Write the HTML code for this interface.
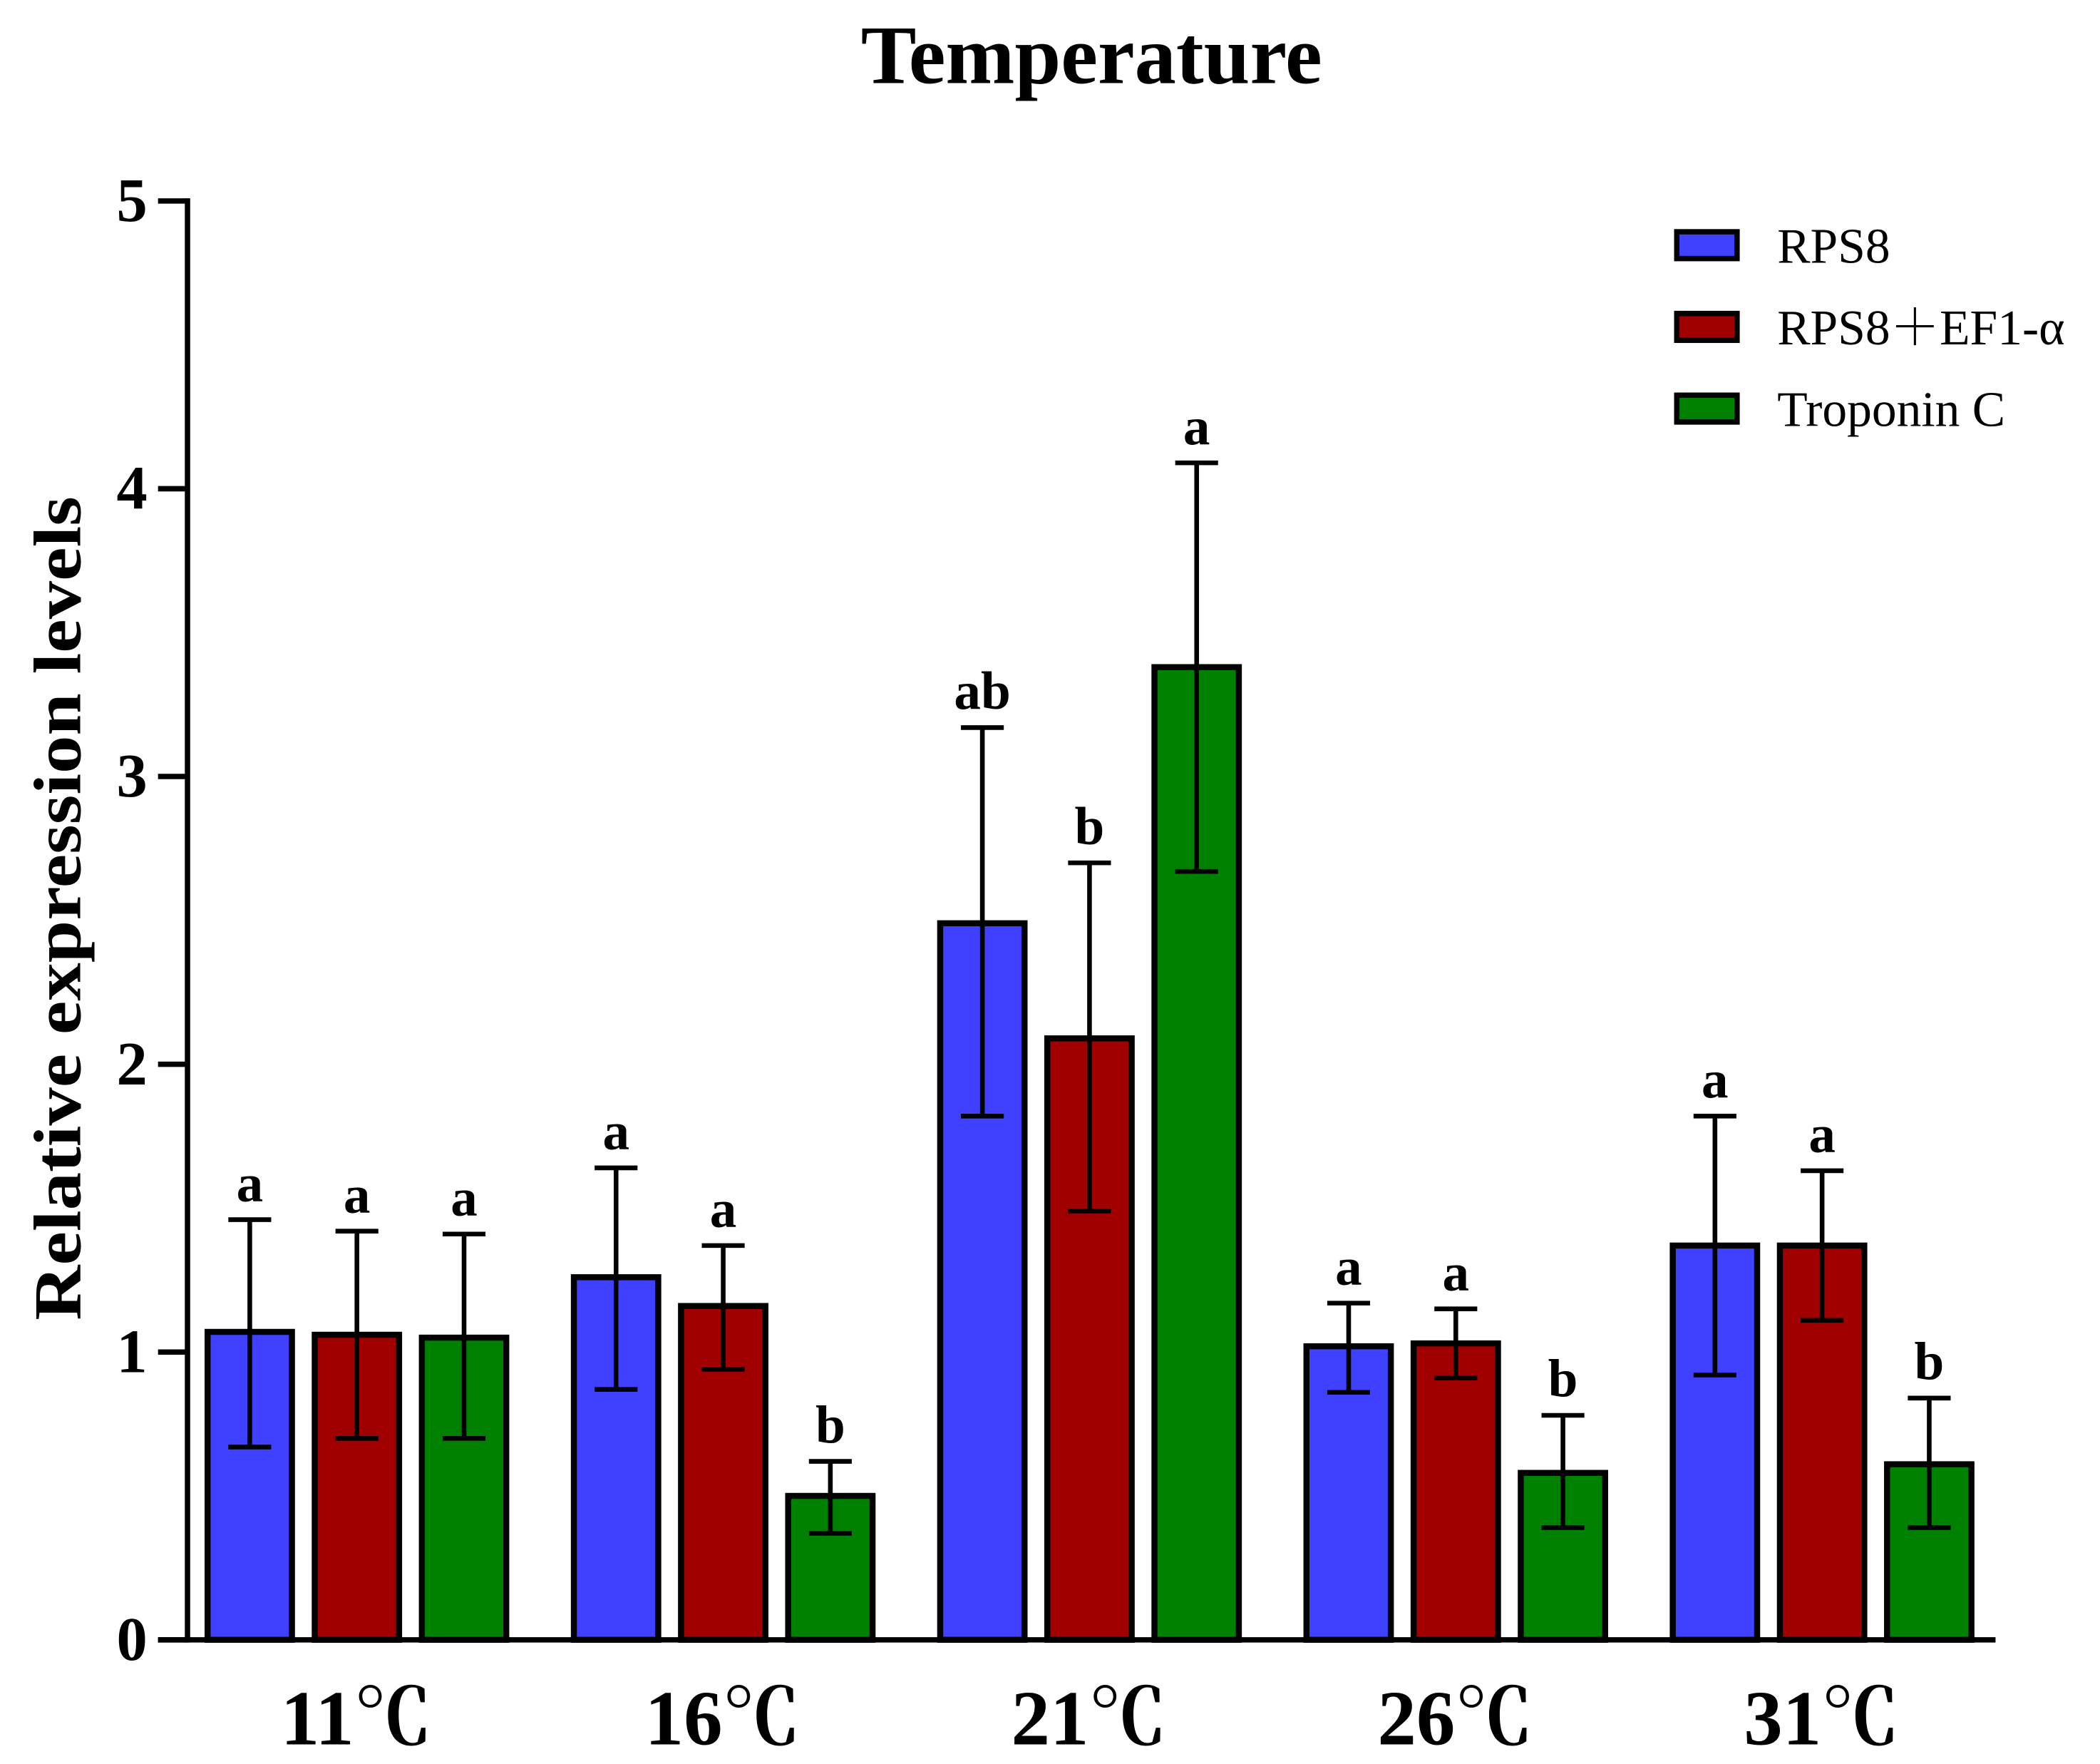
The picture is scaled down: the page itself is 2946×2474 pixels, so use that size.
<!DOCTYPE html>
<html><head><meta charset="utf-8"><style>
html,body{margin:0;padding:0;background:#fff;}
svg{display:block;}
text{font-family:"Liberation Serif","Noto Serif CJK SC",serif;}
</style></head><body>
<svg id="chart" width="2946" height="2474" viewBox="0 0 1568 1316.7" preserveAspectRatio="none" xmlns="http://www.w3.org/2000/svg">
<text x="815" y="62" text-anchor="middle" font-size="62" font-weight="bold">Temperature</text>
<text transform="translate(60,678) rotate(-90)" text-anchor="middle" font-size="50" font-weight="bold" textLength="615" lengthAdjust="spacingAndGlyphs">Relative expression levels</text>
<g id="axes"></g>
<g id="bars"></g>
<g id="legend"></g>
</svg>
<script>
const categories = ["11\u2103","16\u2103","21\u2103","26\u2103","31\u2103"];
const seriesNames = ["RPS8","RPS8\uFF0BEF1-\u03B1","Troponin C"];
const seriesColors = ["#4040ff","#a00000","#008000"];
const rps8 = [1.07,1.26,2.49,1.02,1.37];
const rps8Hi = [1.46,1.64,3.17,1.17,1.82];
const rps8Lo = [0.67,0.87,1.82,0.86,0.92];
const combo = [1.06,1.16,2.09,1.03,1.37];
const comboHi = [1.42,1.37,2.70,1.15,1.63];
const comboLo = [0.70,0.94,1.49,0.91,1.11];
const trop = [1.05,0.50,3.38,0.58,0.61];
const tropHi = [1.41,0.62,4.09,0.78,0.84];
const tropLo = [0.70,0.37,2.67,0.39,0.39];
const letters = [["a","a","a"],["a","a","b"],["ab","b","a"],["a","a","b"],["a","a","b"]];
const yTicks = [0,1,2,3,4,5];

const NS="http://www.w3.org/2000/svg";
const y0=1224, y5=150, axisX=140, axisEnd=1490;
function yS(v){return y0-(y0-y5)*v/5;}
function groupX(i){return 155+273.5*i;}
function barX(i,s){return groupX(i)+80*s;}
const BW=63;
function el(tag,attrs,parent){const e=document.createElementNS(NS,tag);for(const k in attrs)e.setAttribute(k,attrs[k]);parent.appendChild(e);return e;}

const axes=document.getElementById('axes');
let l=el('line',{x1:axisX,y1:y5-2,x2:axisX,y2:y0+2,stroke:'#000','stroke-width':4},axes);


l=el('line',{x1:118,y1:y0,x2:axisEnd,y2:y0,stroke:'#000','stroke-width':4},axes);


yTicks.forEach(v=>{
  const t=el('line',{x1:118,y1:yS(v),x2:axisX,y2:yS(v),stroke:'#000','stroke-width':4},axes);
  
  
  const tx=el('text',{x:110,y:yS(v)+15,'text-anchor':'end','font-size':46,'font-weight':'bold'},axes);
  tx.textContent=v;
  
  
});
categories.forEach((c,i)=>{
  const tx=el('text',{x:groupX(i)+111,y:1302,'text-anchor':'middle','font-size':58,'font-weight':'bold'},axes);
  tx.textContent=c;
  
  
});

const bars=document.getElementById('bars');
const vals=[rps8,combo,trop], his=[rps8Hi,comboHi,tropHi], los=[rps8Lo,comboLo,tropLo];
categories.forEach((c,i)=>{
  for(let s=0;s<3;s++){
    const x=barX(i,s), v=vals[s][i];
    const r=el('rect',{x:x,y:yS(v),width:BW,height:y0-yS(v),fill:seriesColors[s],stroke:'#000','stroke-width':4.5},bars);
    
    
    const cx=x+BW/2;
    const e=el('path',{d:`M${cx},${yS(los[s][i])}V${yS(his[s][i])}M${cx-16},${yS(his[s][i])}H${cx+16}M${cx-16},${yS(los[s][i])}H${cx+16}`,stroke:'#000','stroke-width':3.5,fill:'none'},bars);
    
    
    const t=el('text',{x:cx,y:yS(his[s][i])-14,'text-anchor':'middle','font-size':40,'font-weight':'bold'},bars);
    t.textContent=letters[i][s];
    
    
  }
});

const lg=document.getElementById('legend');
seriesNames.forEach((n,s)=>{
  const yy=183+61*s;
  const r=el('rect',{x:1252,y:yy-10,width:45,height:20,fill:seriesColors[s],stroke:'#000','stroke-width':4},lg);
  
  
  const t=el('text',{x:1327,y:yy+13,'font-size':37},lg);
  t.textContent=n;
  
  
});
</script>
</body></html>
